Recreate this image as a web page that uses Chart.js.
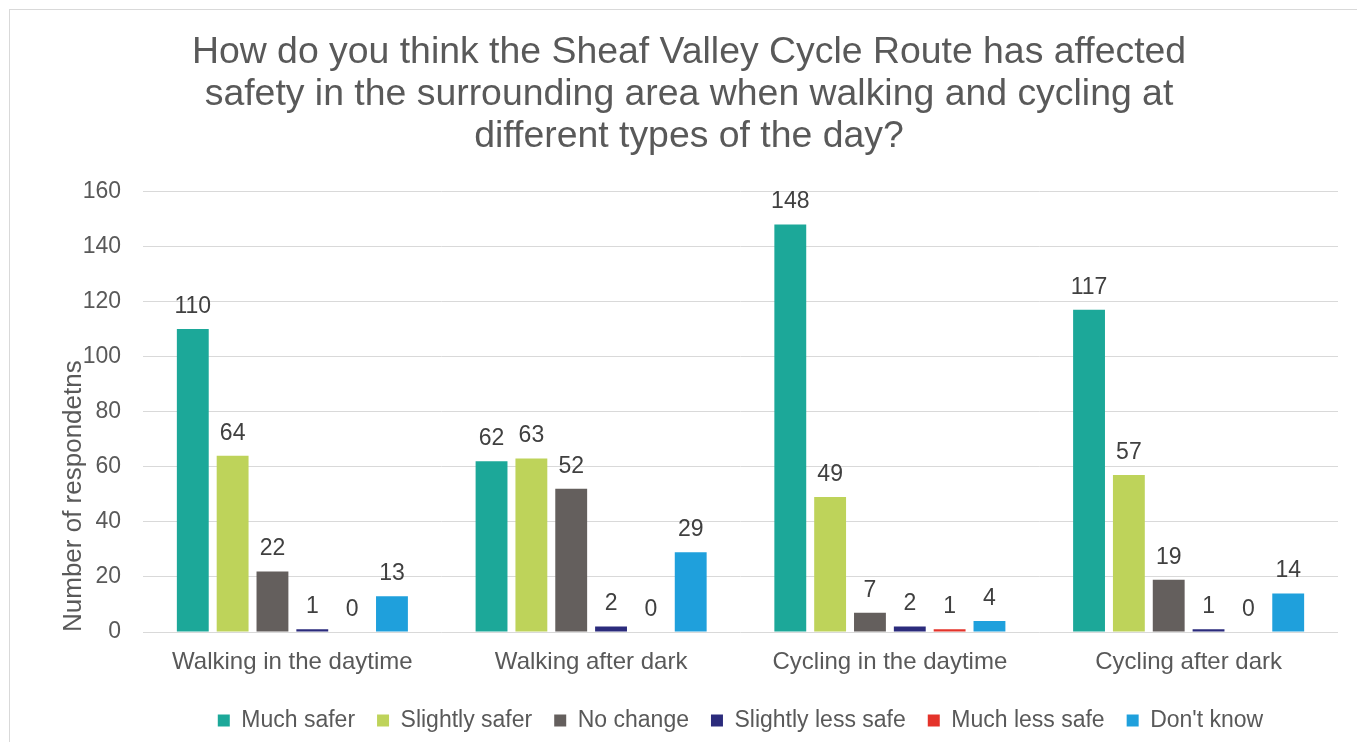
<!DOCTYPE html>
<html>
<head>
<meta charset="utf-8">
<script src="https://cdn.jsdelivr.net/npm/chart.js@4"></script>
<style>
    html, body { margin: 0; padding: 0; background: #fff; overflow: hidden; }
    #wrap { position: relative; width: 1378px; height: 742px; }
    #frame { position: absolute; left: 9px; top: 9px; width: 1400px; height: 800px; border: 1px solid #d9d9d9; pointer-events: none; }
</style>
</head>
<body>
<div id="wrap">
    <canvas id="chart"></canvas>
    <div id="frame"></div>
</div>
<script>
const categories = ['Walking in the daytime', 'Walking after dark', 'Cycling in the daytime', 'Cycling after dark'];
const muchSafer = [110, 62, 148, 117];
const slightlySafer = [64, 63, 49, 57];
const noChange = [22, 52, 7, 19];
const slightlyLessSafe = [1, 2, 2, 1];
const muchLessSafe = [0, 0, 1, 0];
const dontKnow = [13, 29, 4, 14];
const yTicks = [0, 20, 40, 60, 80, 100, 120, 140, 160];

const FONT = '"Liberation Sans", Arial, sans-serif';

// Value labels above each bar
const valueLabels = {
    id: 'valueLabels',
    afterDatasetsDraw(chart) {
        const ctx = chart.ctx;
        ctx.save();
        ctx.font = '23px ' + FONT;
        ctx.fillStyle = '#404040';
        ctx.textAlign = 'center';
        ctx.textBaseline = 'alphabetic';
        chart.data.datasets.forEach((ds, i) => {
            const meta = chart.getDatasetMeta(i);
            meta.data.forEach((bar, j) => {
                ctx.fillText(String(ds.data[j]), bar.x, bar.y - 16);
            });
        });
        ctx.restore();
    }
};

new Chart(document.getElementById('chart'), {
    type: 'bar',
    data: {
        labels: categories,
        datasets: [
            { label: 'Much safer', data: muchSafer, backgroundColor: '#1ca899' },
            { label: 'Slightly safer', data: slightlySafer, backgroundColor: '#bed35a' },
            { label: 'No change', data: noChange, backgroundColor: '#645f5d' },
            { label: 'Slightly less safe', data: slightlyLessSafe, backgroundColor: '#2b2b7c' },
            { label: 'Much less safe', data: muchLessSafe, backgroundColor: '#e4332a' },
            { label: "Don't know", data: dontKnow, backgroundColor: '#1fa0dc' }
        ]
    },
    options: {
        responsive: true,
        maintainAspectRatio: false,
        animation: false,
        layout: { padding: { left: 40, right: 40, top: 0, bottom: 0 } },
        datasets: {
            bar: { categoryPercentage: 0.8, barPercentage: 0.8 }
        },
        plugins: {
            title: {
                display: true,
                text: [
                    'How do you think the Sheaf Valley Cycle Route has affected',
                    'safety in the surrounding area when walking and cycling at',
                    'different types of the day?'
                ],
                color: '#595959',
                font: { family: FONT, size: 37.4, weight: 'normal', lineHeight: 1.135 },
                padding: { top: 31, bottom: 33 }
            },
            legend: {
                position: 'bottom',
                fullSize: false,
                labels: {
                    color: '#595959',
                    font: { family: FONT, size: 23 },
                    boxWidth: 12,
                    boxHeight: 12,
                    padding: 22
                }
            },
            tooltip: { enabled: false }
        },
        scales: {
            x: {
                grid: { display: false },
                border: { display: false },
                ticks: {
                    color: '#595959',
                    font: { family: FONT, size: 24 },
                    padding: 8,
                    maxRotation: 0
                },
                afterFit(scale) { scale.height = 55; }
            },
            y: {
                min: 0,
                max: 160,
                afterBuildTicks(scale) { scale.ticks = yTicks.map(v => ({ value: v })); },
                grid: { color: '#d9d9d9', lineWidth: 1, drawTicks: false },
                border: { display: false },
                ticks: {
                    color: '#595959',
                    font: { family: FONT, size: 23 },
                    padding: 22
                },
                title: {
                    display: true,
                    text: 'Number of respondetns',
                    align: 'start',
                    color: '#595959',
                    font: { family: FONT, size: 26 },
                    padding: { top: 18, bottom: 0 }
                },
                afterFit(scale) { scale.width = 103; }
            }
        }
    },
    plugins: [valueLabels]
});
</script>
</body>
</html>
